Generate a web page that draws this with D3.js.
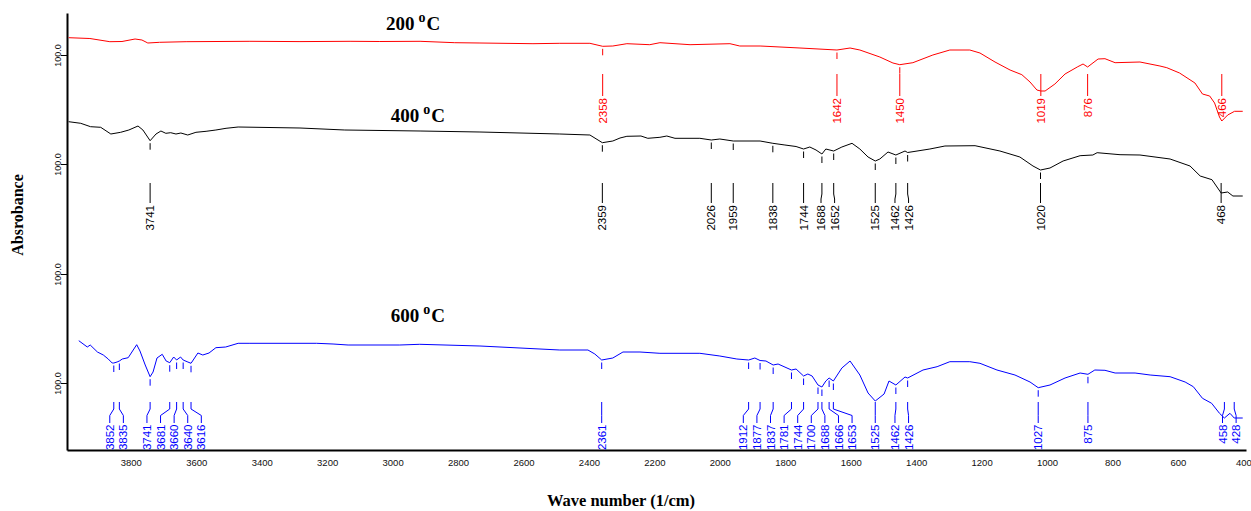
<!DOCTYPE html>
<html>
<head>
<meta charset="utf-8">
<script src="https://cdn.jsdelivr.net/npm/d3@7"></script>
<style>
  body { margin: 0; background: #fff; }
  svg { display: block; }
</style>
</head>
<body>
<div class="canvas"></div>
<script>
// FTIR spectra: [wavenumber (1/cm), stacked absorbance (offset units)]
const spectrum200 = [
  [3990, 41.23], [3925, 41.15], [3864, 40.83], [3827, 40.85], [3787, 41.1], [3766, 41.0],
  [3748, 40.7], [3712, 40.77], [3631, 40.83], [3436, 40.87], [3283, 40.84], [3130, 40.87],
  [3039, 40.85], [2916, 40.87], [2810, 40.73], [2733, 40.7], [2571, 40.63], [2489, 40.67],
  [2397, 40.67], [2358, 40.37], [2327, 40.4], [2284, 40.63], [2214, 40.53], [2183, 40.73],
  [2091, 40.53], [1969, 40.63], [1939, 40.4], [1877, 40.4], [1755, 40.2], [1642, 40.0],
  [1602, 40.2], [1572, 40.0], [1511, 39.3], [1471, 38.7], [1450, 38.53], [1410, 38.73],
  [1349, 39.5], [1297, 40.0], [1236, 40.0], [1205, 39.7], [1159, 38.8], [1113, 38.0],
  [1077, 37.53], [1052, 36.8], [1031, 36.0], [1019, 35.9], [1006, 35.9], [976, 36.6],
  [945, 37.6], [906, 38.33], [890, 38.6], [876, 38.3], [844, 39.1], [823, 39.13],
  [792, 38.73], [716, 38.8], [655, 38.4], [634, 38.23], [595, 37.7], [548, 36.7],
  [525, 35.6], [503, 35.4], [488, 34.7], [473, 33.3], [466, 32.9], [448, 33.5],
  [427, 33.87], [402, 33.87]
];

const spectrum400 = [
  [3990, 32.83], [3953, 32.67], [3923, 32.33], [3892, 32.27], [3861, 31.6], [3831, 31.77],
  [3806, 32.0], [3778, 32.4], [3763, 32.0], [3741, 30.93], [3723, 31.6], [3708, 31.9],
  [3693, 31.67], [3678, 31.73], [3662, 31.6], [3647, 31.7], [3626, 31.5], [3601, 31.77],
  [3570, 31.87], [3540, 32.0], [3509, 32.17], [3472, 32.3], [3283, 32.2],
  [3146, 32.0], [2916, 31.9], [2733, 31.8], [2489, 31.6], [2397, 31.5], [2359, 30.73],
  [2327, 30.9], [2305, 31.2], [2284, 31.37], [2241, 31.4], [2220, 31.17], [2183, 31.27],
  [2162, 31.4], [2137, 31.17], [2061, 31.17], [2026, 31.0], [2000, 31.1], [1959, 30.9],
  [1877, 30.9], [1838, 30.67], [1801, 30.5], [1767, 30.35], [1744, 30.1], [1725, 30.3],
  [1706, 30.0], [1688, 29.6], [1676, 30.1], [1652, 29.9], [1627, 30.3], [1596, 30.67],
  [1572, 30.1], [1547, 29.3], [1525, 28.9], [1511, 29.1], [1486, 29.8], [1462, 29.5],
  [1434, 29.9], [1426, 29.75], [1358, 30.1], [1312, 30.4], [1220, 30.43], [1144, 29.9],
  [1083, 29.3], [1043, 28.4], [1020, 28.0], [991, 28.2], [951, 28.9], [899, 29.43],
  [860, 29.5], [847, 29.73], [777, 29.53], [716, 29.5], [624, 29.1], [563, 28.4],
  [532, 27.4], [496, 27.03], [468, 25.7], [448, 25.8], [432, 25.4], [402, 25.4]
];

const spectrum600 = [
  [3959, 10.93], [3933, 10.3], [3924, 10.5], [3902, 9.8], [3884, 9.5], [3869, 9.1],
  [3857, 8.7], [3852, 8.7], [3842, 8.8], [3835, 8.9], [3826, 9.1], [3808, 9.23],
  [3782, 10.53], [3772, 9.9], [3756, 8.5], [3741, 7.33], [3732, 7.8], [3720, 9.2],
  [3704, 9.57], [3692, 8.9], [3681, 8.73], [3669, 9.3], [3660, 9.0], [3648, 9.3],
  [3640, 9.0], [3628, 8.83], [3616, 8.67], [3595, 9.7], [3580, 9.5], [3561, 9.7],
  [3540, 10.23], [3510, 10.3], [3472, 10.67], [3436, 10.67], [3232, 10.67], [3182, 10.6],
  [3136, 10.5], [2978, 10.5], [2917, 10.57], [2733, 10.4], [2489, 10.0], [2403, 10.0],
  [2382, 9.6], [2361, 9.0], [2327, 9.2], [2296, 9.8], [2244, 9.8], [2183, 9.67],
  [2061, 9.67], [2000, 9.4], [1948, 9.1], [1912, 9.0], [1893, 9.2], [1877, 8.95],
  [1859, 8.9], [1837, 8.5], [1822, 8.6], [1781, 8.0], [1767, 8.1], [1744, 7.4],
  [1731, 7.6], [1718, 7.4], [1700, 6.5], [1688, 6.3], [1676, 6.9], [1666, 7.2],
  [1653, 6.9], [1627, 8.2], [1602, 8.9], [1572, 7.5], [1547, 5.7], [1525, 4.9],
  [1498, 5.6], [1483, 6.9], [1462, 6.5], [1434, 7.3], [1426, 7.2], [1379, 8.0],
  [1336, 8.33], [1297, 8.83], [1236, 8.83], [1205, 8.67], [1153, 8.0], [1098, 7.5],
  [1052, 6.8], [1027, 6.23], [991, 6.5], [945, 7.2], [899, 7.7], [875, 7.57],
  [854, 8.0], [823, 7.97], [792, 7.7], [731, 7.7], [685, 7.5], [624, 7.33],
  [578, 6.8], [553, 6.33], [525, 5.17], [497, 4.67], [473, 3.67], [458, 3.2],
  [441, 3.67], [428, 3.2], [402, 3.2]
];

// picked peaks (1/cm)
const peaks200 = [2358, 1642, 1450, 1019, 876, 466];
const peaks400 = [3741, 2359, 2026, 1959, 1838, 1744, 1688, 1652, 1525, 1462, 1426, 1020, 468];
const peaks600 = [3852, 3835, 3741, 3681, 3660, 3640, 3616, 2361, 1912, 1877, 1837, 1781,
  1744, 1700, 1688, 1666, 1653, 1525, 1462, 1426, 1027, 875, 458, 428];

const seriesNames = ['200', '400', '600'];
const seriesColors = ['#ff0000', '#000000', '#0000ff'];

const xTicks = [3800, 3600, 3400, 3200, 3000, 2800, 2600, 2400, 2200, 2000, 1800, 1600, 1400, 1200, 1000, 800, 600, 400];
const yTicks = [39.5, 28.6, 17.6, 6.7];
const yTickLabels = ['100.0', '100.0', '100.0', '100.0'];

const width = 1251, height = 511;

const svg = d3.select('.canvas')
  .append('svg')
  .attr('width', width)
  .attr('height', height);

const x = d3.scaleLinear().domain([3995, 392]).range([67, 1246]);
const y = d3.scaleLinear().domain([0, 43.7]).range([450, 13]);

const line = d3.line()
  .x(d => x(d[0]))
  .y(d => y(d[1]));

// label placement per spectrum (pixel rows for the peak connectors)
const layouts = [
  { top: 74, e1: 85, e2: 90, bottom: 96, text: 98, titleAt: 3020, title: 29.5 },
  { top: 183, e1: 194, e2: 199, bottom: 203, text: 205, titleAt: 3006, title: 121.5 },
  { top: 402, e1: 409, e2: 415.5, bottom: 423, text: 424.5, titleAt: 3006, title: 321.5 }
];

const series = [
  { data: spectrum200, peaks: peaks200 },
  { data: spectrum400, peaks: peaks400 },
  { data: spectrum600, peaks: peaks600 }
].map((s, i) => ({ ...s, name: seriesNames[i], color: seriesColors[i], layout: layouts[i] }));

// value of a spectrum at a wavenumber (data sorted high -> low)
const valueAt = (data, v) => {
  for (let i = 0; i < data.length - 1; i++) {
    const a = data[i], b = data[i + 1];
    if (v <= a[0] && v >= b[0]) {
      const t = (a[0] - v) / (a[0] - b[0]);
      return a[1] + t * (b[1] - a[1]);
    }
  }
  return data[data.length - 1][1];
};

// push overlapping labels apart
const spread = (xs, gap) => {
  const p = xs.slice();
  for (let k = 0; k < 500; k++) {
    let moved = false;
    for (let i = 0; i < p.length - 1; i++) {
      const d = p[i + 1] - p[i];
      if (d < gap - 0.01) {
        const s = (gap - d) / 2;
        p[i] -= s;
        p[i + 1] += s;
        moved = true;
      }
    }
    if (!moved) break;
  }
  return p;
};

// axes
const xAxis = svg.append('g')
  .attr('transform', `translate(0, ${y(0)})`)
  .call(d3.axisBottom(x).tickValues(xTicks).tickSize(0).tickSizeOuter(0).tickPadding(9).tickFormat(d3.format('d')));
xAxis.select('.domain').attr('stroke', '#000').attr('stroke-width', 2);
xAxis.selectAll('text').attr('font-family', 'Liberation Sans, Arial, sans-serif').attr('font-size', 9.5).attr('fill', '#111');

const yAxis = svg.append('g')
  .attr('transform', `translate(${x(3995)}, 0)`)
  .call(d3.axisLeft(y).tickValues(yTicks).tickSize(6).tickSizeOuter(0).tickFormat((d, i) => yTickLabels[i]));
yAxis.select('.domain').attr('stroke', '#000').attr('stroke-width', 2);
yAxis.selectAll('.tick line').attr('stroke', '#000');
yAxis.selectAll('text')
  .attr('font-family', 'Liberation Sans, Arial, sans-serif')
  .attr('font-size', 9)
  .attr('fill', '#111')
  .attr('text-anchor', 'middle')
  .attr('transform', 'rotate(-90)')
  .attr('x', 0)
  .attr('y', -6.5)
  .attr('dy', 0);

svg.append('text')
  .attr('transform', 'translate(23, 215) rotate(-90)')
  .attr('text-anchor', 'middle')
  .attr('font-family', 'Liberation Serif, Times New Roman, serif')
  .attr('font-weight', 'bold')
  .attr('font-size', 16)
  .text('Absrobance');

svg.append('text')
  .attr('x', 621)
  .attr('y', 506)
  .attr('text-anchor', 'middle')
  .attr('font-family', 'Liberation Serif, Times New Roman, serif')
  .attr('font-weight', 'bold')
  .attr('font-size', 16.5)
  .text('Wave number (1/cm)');

// spectra, peak markers and labels
series.forEach(s => {
  const L = s.layout;
  const g = svg.append('g');

  g.append('path')
    .datum(s.data)
    .attr('d', line)
    .attr('fill', 'none')
    .attr('stroke', s.color)
    .attr('stroke-width', 1);

  const px = s.peaks.map(v => x(v));
  const lx = spread(px, 13.6);

  s.peaks.forEach((v, i) => {
    const cy = y(valueAt(s.data, v));
    if (cy + 9 < L.top) {
      g.append('line')
        .attr('x1', px[i]).attr('x2', px[i])
        .attr('y1', cy + 2.5).attr('y2', cy + 9)
        .attr('stroke', s.color).attr('stroke-width', 1);
    }
    g.append('path')
      .attr('d', `M${px[i]},${L.top}V${L.e1}L${lx[i]},${L.e2}V${L.bottom}`)
      .attr('fill', 'none')
      .attr('stroke', s.color)
      .attr('stroke-width', 1);
    g.append('text')
      .attr('transform', `translate(${lx[i]}, ${L.text}) rotate(-90)`)
      .attr('text-anchor', 'end')
      .attr('dy', '0.35em')
      .attr('font-family', 'Liberation Sans, Arial, sans-serif')
      .attr('font-size', 11.5)
      .attr('fill', s.color)
      .text(v);
  });

  const t = g.append('text')
    .attr('x', x(L.titleAt))
    .attr('y', L.title)
    .attr('font-family', 'Liberation Serif, Times New Roman, serif')
    .attr('font-weight', 'bold')
    .attr('font-size', 19)
    .attr('fill', '#000');
  t.append('tspan').text(s.name);
  t.append('tspan').attr('dx', 4).attr('dy', -8).attr('font-size', 14).text('o');
  t.append('tspan').attr('dx', 1).attr('dy', 8).text('C');
});
</script>
</body>
</html>
